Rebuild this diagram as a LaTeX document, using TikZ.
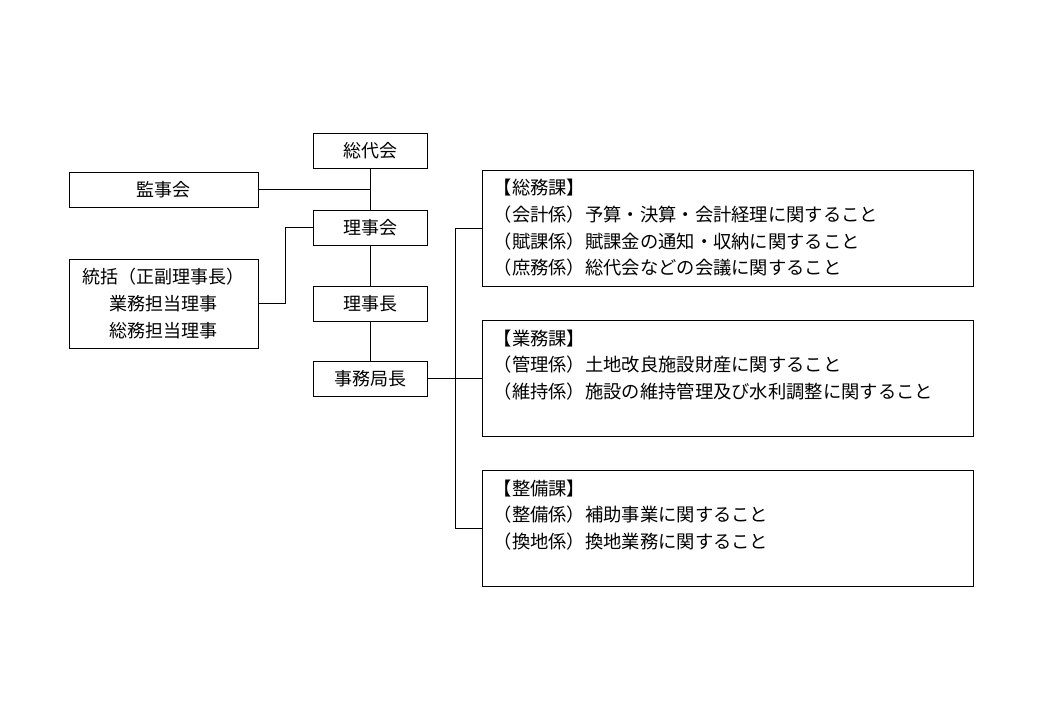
\documentclass[tikz,border=0pt]{standalone}
\usepackage{fontspec}
\newfontfamily\jpfont{Noto Sans CJK JP}
\begin{document}
\begin{tikzpicture}[x=1pt,y=-1pt,
    box/.style={draw=black,line width=1pt,fill=white,inner sep=0pt,
        minimum height=35pt,font=\jpfont\fontsize{18}{26.7}\selectfont},
    sect/.style={draw=black,line width=1pt,inner sep=0pt,
        minimum width=491pt,minimum height=116pt},
    secttext/.style={anchor=north west,inner sep=0pt,align=left,
        font=\jpfont\fontsize{18.3}{26.7}\selectfont},
    link/.style={draw=black,line width=1pt}
]
    \useasboundingbox (0,0) rectangle (1040,720);
    % left column and main chain
    \node[box,minimum width=114pt] (soudai) at (370,151) {総代会};
    \node[box,minimum width=189pt] (kanji) at (163.5,189.5) {監事会};
    \node[box,minimum width=114pt] (rijikai) at (370,227.5) {理事会};
    \node[box,minimum width=189pt,minimum height=89pt,align=center] (toukatsu) at (163.5,303.5)
        {統括（正副理事長）\\業務担当理事\\総務担当理事};
    \node[box,minimum width=114pt] (rijicho) at (370,303.5) {理事長};
    \node[box,minimum width=114pt] (jimu) at (370,378.5) {事務局長};
    % sections
    \node[sect] (soumu) at (727.5,228) {};
    \node[sect] (gyoumu) at (727.5,378.5) {};
    \node[sect] (seibi) at (727.5,528.5) {};
    \node[secttext] (soumuT) at ([xshift=12pt,yshift=-9.5pt]soumu.north west)
        {【総務課】\\（会計係）予算・決算・会計経理に関すること\\（賦課係）賦課金の通知・収納に関すること\\（庶務係）総代会などの会議に関すること};
    \node[secttext] (gyoumuT) at ([xshift=12pt,yshift=-9.5pt]gyoumu.north west)
        {【業務課】\\（管理係）土地改良施設財産に関すること\\（維持係）施設の維持管理及び水利調整に関すること};
    \node[secttext] (seibiT) at ([xshift=12pt,yshift=-9.5pt]seibi.north west)
        {【整備課】\\（整備係）補助事業に関すること\\（換地係）換地業務に関すること};
    % connectors
    {[link]
        \draw (soudai.south) -- (rijikai.north);
        \draw (kanji.east) -- (kanji.east -| soudai.south);
        \draw (rijikai.west) -- ++(-27,0) |- (toukatsu.east);
        \draw (rijikai.south) -- (rijicho.north);
        \draw (rijicho.south) -- (jimu.north);
        \draw (jimu.east) -- (gyoumu.west);
        \coordinate (bus) at ([xshift=28pt]jimu.east);
        \draw (bus) |- (soumu.west);
        \draw (bus) |- (seibi.west);
    }
\end{tikzpicture}
\end{document}
